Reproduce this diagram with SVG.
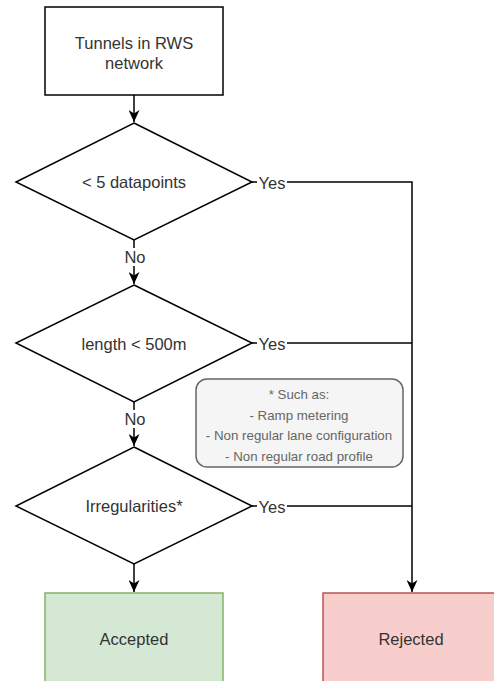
<svg xmlns="http://www.w3.org/2000/svg" width="494" height="681" viewBox="0 0 494 681">
  <style>
    .shape { stroke: #000; stroke-width: 1.5; fill: #fff; }
    .lbl { font-family: "Liberation Sans", Arial, sans-serif; font-size: 16.5px; fill: #333; text-anchor: middle; dominant-baseline: central; }
    .note { font-family: "Liberation Sans", Arial, sans-serif; font-size: 13.3px; fill: #666; text-anchor: middle; dominant-baseline: central; }
    .edge { stroke: #000; stroke-width: 1.5; fill: none; }
    .tag { fill: #fff; }
  </style>
  <defs>
    <marker id="arrow" viewBox="0 0 12 11" refX="12" refY="5.5" markerWidth="12" markerHeight="11" markerUnits="userSpaceOnUse" orient="auto">
      <path d="M0,0 L12,5.5 L0,11 L3.5,5.5 Z" fill="#000"/>
    </marker>
  </defs>
  <rect width="494" height="681" fill="#fff"/>

  <!-- connectors -->
  <g id="edges">
    <path class="edge" d="M134,95 V122" marker-end="url(#arrow)"/>
    <path class="edge" d="M134,240 V284" marker-end="url(#arrow)"/>
    <path class="edge" d="M134,402 V446" marker-end="url(#arrow)"/>
    <path class="edge" d="M134,564 V592" marker-end="url(#arrow)"/>
    <path class="edge" d="M252,182 H412 V592" marker-end="url(#arrow)"/>
    <path class="edge" d="M252,343 H412"/>
    <path class="edge" d="M252,506 H412"/>
    <rect class="tag" x="123" y="248" width="24" height="18"/>
    <text class="lbl" x="135" y="257">No</text>
    <rect class="tag" x="123" y="410" width="24" height="18"/>
    <text class="lbl" x="135" y="419">No</text>
    <rect class="tag" x="257" y="174" width="30" height="17"/>
    <text class="lbl" x="272" y="183">Yes</text>
    <rect class="tag" x="257" y="335" width="30" height="17"/>
    <text class="lbl" x="272" y="344">Yes</text>
    <rect class="tag" x="257" y="498" width="30" height="17"/>
    <text class="lbl" x="272" y="507">Yes</text>
  </g>

  <g id="start">
    <rect class="shape" x="45" y="7" width="178" height="88"/>
    <text class="lbl" x="134" y="43">Tunnels in RWS</text>
    <text class="lbl" x="134" y="63">network</text>
  </g>

  <g id="check-datapoints">
    <polygon class="shape" points="134,123 252,182 134,240 16,182"/>
    <text class="lbl" x="134" y="182">&lt; 5 datapoints</text>
  </g>

  <g id="check-length">
    <polygon class="shape" points="134,285 252,343 134,402 16,343"/>
    <text class="lbl" x="134" y="344">length &lt; 500m</text>
  </g>

  <g id="check-irregularities">
    <polygon class="shape" points="134,447 252,506 134,564 16,506"/>
    <text class="lbl" x="134" y="506">Irregularities*</text>
  </g>

  <g id="note">
    <rect x="196" y="379" width="207" height="88" rx="11" ry="11" fill="#f5f5f5" stroke="#666" stroke-width="1.5"/>
    <text class="note" x="299" y="394">* Such as:</text>
    <text class="note" x="299" y="415">- Ramp metering</text>
    <text class="note" x="299" y="435">- Non regular lane configuration</text>
    <text class="note" x="299" y="456">- Non regular road profile</text>
  </g>

  <g id="accepted">
    <rect x="45" y="593" width="178" height="100" fill="#d5e8d4" stroke="#82b366" stroke-width="1.5"/>
    <text class="lbl" x="134" y="639">Accepted</text>
  </g>

  <g id="rejected">
    <rect x="323" y="593" width="178" height="100" fill="#f8cecc" stroke="#b85450" stroke-width="1.5"/>
    <text class="lbl" x="411" y="639">Rejected</text>
  </g>
</svg>
